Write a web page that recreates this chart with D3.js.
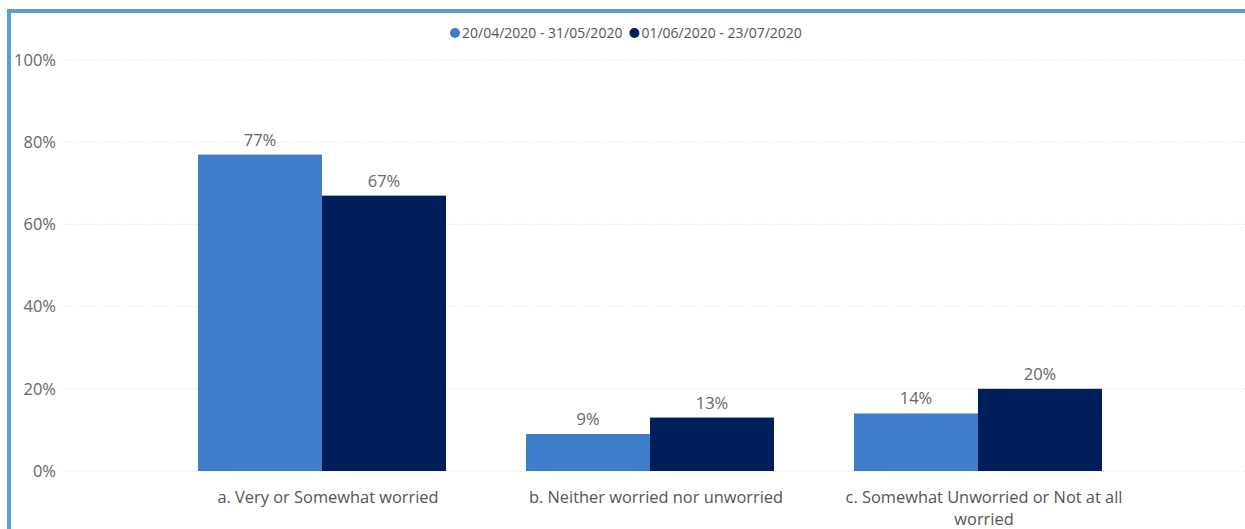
<!DOCTYPE html>
<html>
<head>
<meta charset="utf-8">
<script src="https://cdn.jsdelivr.net/npm/d3@7"></script>
<style>
  html, body { margin: 0; padding: 0; background: #fff; }
  svg { display: block; font-family: "Open Sans", "Noto Sans", sans-serif; }
</style>
</head>
<body>
<svg id="chart" width="1245" height="529"></svg>
<script>
// Worry levels across two survey periods
const categories = [
  ["a. Very or Somewhat worried"],
  ["b. Neither worried nor unworried"],
  ["c. Somewhat Unworried or Not at all", "worried"]
];
const seriesNames = ["20/04/2020 - 31/05/2020", "01/06/2020 - 23/07/2020"];
const period1 = [77, 9, 14];
const period2 = [67, 13, 20];
const yTicks = [0, 20, 40, 60, 80, 100];
const colors = ["#3f7dcb", "#001f5a"];

const svg = d3.select("#chart");
const W = 1245, H = 529;

// Frame accent (top and left edges)
svg.append("rect").attr("x", 7).attr("y", 9).attr("width", W - 7).attr("height", 4).attr("fill", "#5b9bd7");
svg.append("rect").attr("x", 7).attr("y", 9).attr("width", 4).attr("height", H - 9).attr("fill", "#5b9bd7");

const y = d3.scaleLinear().domain([0, 100]).range([471, 60]);
const catKeys = categories.map(c => c.join(" "));
const x0 = d3.scaleBand().domain(catKeys).range([158, 1142]).paddingInner(80 / 328).paddingOuter(40 / 328);
const x1 = d3.scaleBand().domain(seriesNames).range([0, x0.bandwidth()]);

// Gridlines
svg.append("g").selectAll("line").data(yTicks).join("line")
  .attr("x1", 62).attr("x2", W)
  .attr("y1", d => y(d)).attr("y2", d => y(d))
  .attr("stroke", "#dcdcdc").attr("stroke-width", 1)
  .attr("stroke-dasharray", "1,2");

// Y axis labels
const yAxis = d3.axisLeft(y).tickValues(yTicks).tickFormat(d => d + "%").tickSize(0).tickPadding(0);
const gy = svg.append("g").attr("transform", "translate(56,0)").call(yAxis);
gy.select(".domain").remove();
gy.selectAll("text").attr("fill", "#666").style("font-size", "16.5px").style("font-family", "'Open Sans', sans-serif");

// Bars
const rows = catKeys.map((k, i) => ({ key: k, values: [period1[i], period2[i]] }));
const groups = svg.append("g").selectAll("g").data(rows).join("g")
  .attr("transform", d => `translate(${x0(d.key)},0)`);
groups.selectAll("rect").data(d => d.values.map((v, j) => ({ s: seriesNames[j], v, j })))
  .join("rect")
  .attr("x", d => x1(d.s)).attr("width", x1.bandwidth())
  .attr("y", d => y(d.v)).attr("height", d => y(0) - y(d.v))
  .attr("fill", d => colors[d.j]);
groups.selectAll("text").data(d => d.values.map((v, j) => ({ s: seriesNames[j], v, j })))
  .join("text")
  .attr("x", d => x1(d.s) + x1.bandwidth() / 2)
  .attr("y", d => y(d.v) - 9)
  .attr("text-anchor", "middle")
  .attr("fill", "#666").style("font-size", "16.5px")
  .text(d => d.v + "%");

// Category labels
const xl = svg.append("g").selectAll("text").data(categories).join("text")
  .attr("x", (d, i) => x0(catKeys[i]) + x0.bandwidth() / 2 + 6)
  .attr("y", 503)
  .attr("text-anchor", "middle")
  .attr("fill", "#555").style("font-size", "16.4px");
xl.selectAll("tspan").data(d => d).join("tspan")
  .attr("x", function () { return d3.select(this.parentNode).attr("x"); })
  .attr("dy", (d, i) => i === 0 ? 0 : 22)
  .text(d => d);

// Legend
const legend = svg.append("g").attr("transform", "translate(455,33)");
let lx = 0;
seriesNames.forEach((name, i) => {
  const g = legend.append("g").attr("transform", `translate(${lx},0)`);
  g.append("circle").attr("cx", 0).attr("cy", 0).attr("r", 5).attr("fill", colors[i]);
  const t = g.append("text").attr("x", 7).attr("y", 5)
    .attr("fill", "#555").style("font-size", "14px").text(name);
  lx += 7 + t.node().getComputedTextLength() + 12;
});
</script>
</body>
</html>
